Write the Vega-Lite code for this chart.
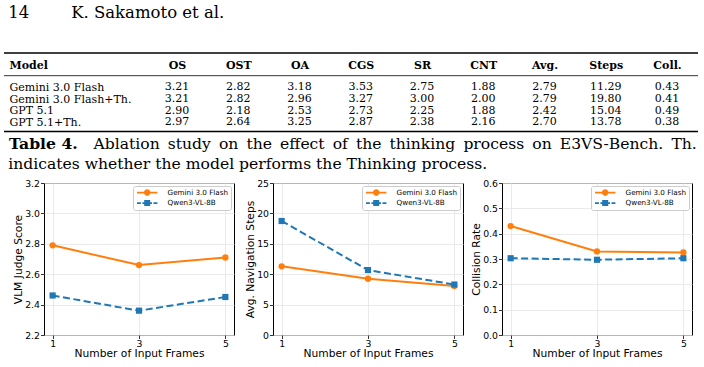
{
  "$schema": "https://vega.github.io/schema/vega-lite/v6.json",
  "background": "white",
  "padding": {"left": 3, "right": 0, "top": 4, "bottom": 0},
  "title": {
    "text": "14\u00a0\u00a0\u00a0\u00a0\u00a0\u00a0\u00a0\u00a0K. Sakamoto et al.",
    "anchor": "start", "font": "DejaVu Serif", "fontSize": 16.5, "fontWeight": "normal",
    "color": "black", "dx": 5, "offset": 31
  },
  "datasets": {
    "table": [
      {"model": "Gemini 3.0 Flash", "metric": "OS", "score": 3.21},
      {"model": "Gemini 3.0 Flash", "metric": "OST", "score": 2.82},
      {"model": "Gemini 3.0 Flash", "metric": "OA", "score": 3.18},
      {"model": "Gemini 3.0 Flash", "metric": "CGS", "score": 3.53},
      {"model": "Gemini 3.0 Flash", "metric": "SR", "score": 2.75},
      {"model": "Gemini 3.0 Flash", "metric": "CNT", "score": 1.88},
      {"model": "Gemini 3.0 Flash", "metric": "Avg.", "score": 2.79},
      {"model": "Gemini 3.0 Flash", "metric": "Steps", "score": 11.29},
      {"model": "Gemini 3.0 Flash", "metric": "Coll.", "score": 0.43},
      {"model": "Gemini 3.0 Flash+Th.", "metric": "OS", "score": 3.21},
      {"model": "Gemini 3.0 Flash+Th.", "metric": "OST", "score": 2.82},
      {"model": "Gemini 3.0 Flash+Th.", "metric": "OA", "score": 2.96},
      {"model": "Gemini 3.0 Flash+Th.", "metric": "CGS", "score": 3.27},
      {"model": "Gemini 3.0 Flash+Th.", "metric": "SR", "score": 3.00},
      {"model": "Gemini 3.0 Flash+Th.", "metric": "CNT", "score": 2.00},
      {"model": "Gemini 3.0 Flash+Th.", "metric": "Avg.", "score": 2.79},
      {"model": "Gemini 3.0 Flash+Th.", "metric": "Steps", "score": 19.80},
      {"model": "Gemini 3.0 Flash+Th.", "metric": "Coll.", "score": 0.41},
      {"model": "GPT 5.1", "metric": "OS", "score": 2.90},
      {"model": "GPT 5.1", "metric": "OST", "score": 2.18},
      {"model": "GPT 5.1", "metric": "OA", "score": 2.53},
      {"model": "GPT 5.1", "metric": "CGS", "score": 2.73},
      {"model": "GPT 5.1", "metric": "SR", "score": 2.25},
      {"model": "GPT 5.1", "metric": "CNT", "score": 1.88},
      {"model": "GPT 5.1", "metric": "Avg.", "score": 2.42},
      {"model": "GPT 5.1", "metric": "Steps", "score": 15.04},
      {"model": "GPT 5.1", "metric": "Coll.", "score": 0.49},
      {"model": "GPT 5.1+Th.", "metric": "OS", "score": 2.97},
      {"model": "GPT 5.1+Th.", "metric": "OST", "score": 2.64},
      {"model": "GPT 5.1+Th.", "metric": "OA", "score": 3.25},
      {"model": "GPT 5.1+Th.", "metric": "CGS", "score": 2.87},
      {"model": "GPT 5.1+Th.", "metric": "SR", "score": 2.38},
      {"model": "GPT 5.1+Th.", "metric": "CNT", "score": 2.16},
      {"model": "GPT 5.1+Th.", "metric": "Avg.", "score": 2.70},
      {"model": "GPT 5.1+Th.", "metric": "Steps", "score": 13.78},
      {"model": "GPT 5.1+Th.", "metric": "Coll.", "score": 0.38}
    ],
    "series": [
      {"metric": "VLM Judge Score", "model": "Gemini 3.0 Flash", "frames": 1, "value": 2.79},
      {"metric": "VLM Judge Score", "model": "Gemini 3.0 Flash", "frames": 3, "value": 2.66},
      {"metric": "VLM Judge Score", "model": "Gemini 3.0 Flash", "frames": 5, "value": 2.71},
      {"metric": "VLM Judge Score", "model": "Qwen3-VL-8B", "frames": 1, "value": 2.46},
      {"metric": "VLM Judge Score", "model": "Qwen3-VL-8B", "frames": 3, "value": 2.36},
      {"metric": "VLM Judge Score", "model": "Qwen3-VL-8B", "frames": 5, "value": 2.45},
      {"metric": "Avg. Navigation Steps", "model": "Gemini 3.0 Flash", "frames": 1, "value": 11.29},
      {"metric": "Avg. Navigation Steps", "model": "Gemini 3.0 Flash", "frames": 3, "value": 9.25},
      {"metric": "Avg. Navigation Steps", "model": "Gemini 3.0 Flash", "frames": 5, "value": 8.05},
      {"metric": "Avg. Navigation Steps", "model": "Qwen3-VL-8B", "frames": 1, "value": 18.75},
      {"metric": "Avg. Navigation Steps", "model": "Qwen3-VL-8B", "frames": 3, "value": 10.68},
      {"metric": "Avg. Navigation Steps", "model": "Qwen3-VL-8B", "frames": 5, "value": 8.3},
      {"metric": "Collision Rate", "model": "Gemini 3.0 Flash", "frames": 1, "value": 0.43},
      {"metric": "Collision Rate", "model": "Gemini 3.0 Flash", "frames": 3, "value": 0.33},
      {"metric": "Collision Rate", "model": "Gemini 3.0 Flash", "frames": 5, "value": 0.326},
      {"metric": "Collision Rate", "model": "Qwen3-VL-8B", "frames": 1, "value": 0.303},
      {"metric": "Collision Rate", "model": "Qwen3-VL-8B", "frames": 3, "value": 0.297},
      {"metric": "Collision Rate", "model": "Qwen3-VL-8B", "frames": 5, "value": 0.303}
    ]
  },
  "spacing": 5,
  "vconcat": [
    {
      "width": 654, "height": 78.5,
      "view": {"stroke": null},
      "title": {
        "text": "indicates whether the model performs the Thinking process.",
        "orient": "bottom", "anchor": "start", "dx": 5, "offset": 4.4,
        "font": "DejaVu Serif", "fontSize": 15.6, "fontWeight": "normal", "color": "black"
      },
      "resolve": {"scale": {"x": "independent", "y": "independent"}},
      "layer": [
        {
          "data": {"name": "table"},
          "mark": {"type": "text", "font": "DejaVu Serif", "fontSize": 11, "color": "black"},
          "encoding": {
            "x": {
              "field": "metric", "type": "nominal", "sort": null,
              "scale": {"type": "point", "domain": ["OS", "OST", "OA", "CGS", "SR", "CNT", "Avg.", "Steps", "Coll."], "range": [133, 623], "padding": 0},
              "axis": {"orient": "top", "offset": -22.7, "ticks": false, "tickSize": 0, "grid": false,
                "domain": false, "labelAngle": 0,
                "labelFont": "DejaVu Serif", "labelFontWeight": "bold", "labelFontSize": 11, "labelColor": "black",
                "labelPadding": 10, "labelBaseline": "middle", "labelOverlap": false, "labelFlush": false,
                "title": "Ablation \u2009study \u2009on \u2009the \u2009effect \u2009of \u2009the \u2009thinking \u2009process \u2009on \u2009E3VS-Bench. \u2009Th.",
                "titleFont": "DejaVu Serif", "titleFontSize": 15.6, "titleFontWeight": "normal", "titleColor": "black",
                "titleAngle": 0, "titleAlign": "left", "titleBaseline": "top", "titleX": 49, "titleY": 61.1}
            },
            "y": {
              "field": "model", "type": "nominal", "sort": null,
              "scale": {"type": "point", "domain": ["Gemini 3.0 Flash", "Gemini 3.0 Flash+Th.", "GPT 5.1", "GPT 5.1+Th."], "range": [34.4, 69.4], "padding": 0},
              "axis": {"orient": "left", "title": "Model", "titleAngle": 0, "titleAlign": "left", "titleBaseline": "middle",
                "titleX": -35, "titleY": 12.7, "titleFont": "DejaVu Serif", "titleFontWeight": "bold", "titleFontSize": 11,
                "titleColor": "black", "labelAlign": "left", "labelPadding": 35, "ticks": false, "tickSize": 0,
                "domain": false, "grid": false, "labelFont": "DejaVu Serif", "labelFontSize": 11, "labelColor": "black",
                "labelOverlap": false, "labelBaseline": "middle", "labelLimit": 300}
            },
            "text": {"field": "score", "type": "quantitative", "format": ".2f"}
          }
        },
        {
          "data": {"values": [{"label": "Table 4."}]},
          "mark": {"type": "text", "font": "DejaVu Serif", "fontSize": 15.6, "fontWeight": "bold", "color": "black", "align": "left", "baseline": "top", "dx": 5},
          "encoding": {
            "x": {"datum": 0, "type": "quantitative", "scale": {"domain": [0, 1], "range": [-40, 654], "nice": false, "zero": false}, "axis": null},
            "y": {"datum": -0.0675, "type": "quantitative", "scale": {"domain": [0, 1], "nice": false, "zero": false}, "axis": null},
            "text": {"field": "label"}
          }
        },
        {
          "data": {"values": [{"edge": "top"}]},
          "mark": {"type": "rule", "strokeWidth": 1.6, "color": "black"},
          "encoding": {
            "x": {"datum": 0, "type": "quantitative", "scale": {"domain": [0, 1], "range": [-40, 654], "nice": false, "zero": false}, "axis": null},
            "x2": {"datum": 1},
            "y": {"datum": 1, "type": "quantitative", "scale": {"domain": [0, 1], "nice": false, "zero": false}, "axis": null}
          }
        },
        {
          "data": {"values": [{"edge": "mid"}]},
          "mark": {"type": "rule", "strokeWidth": 0.8, "color": "black"},
          "encoding": {
            "x": {"datum": 0, "type": "quantitative", "scale": {"domain": [0, 1], "range": [-40, 654], "nice": false, "zero": false}, "axis": null},
            "x2": {"datum": 1},
            "y": {"datum": 0.711, "type": "quantitative", "scale": {"domain": [0, 1], "nice": false, "zero": false}, "axis": null}
          }
        },
        {
          "data": {"values": [{"edge": "bottom"}]},
          "mark": {"type": "rule", "strokeWidth": 1.6, "color": "black"},
          "encoding": {
            "x": {"datum": 0, "type": "quantitative", "scale": {"domain": [0, 1], "range": [-40, 654], "nice": false, "zero": false}, "axis": null},
            "x2": {"datum": 1},
            "y": {"datum": 0, "type": "quantitative", "scale": {"domain": [0, 1], "nice": false, "zero": false}, "axis": null}
          }
        }
      ]
    },
    {
      "hconcat": [
        {
          "width": 190, "height": 152,
          "data": {"name": "series"},
          "transform": [{"filter": "datum.metric === 'VLM Judge Score'"}],
          "encoding": {
            "x": {"field": "frames", "type": "quantitative", "scale": {"domain": [0.8, 5.2], "nice": false, "zero": false},
              "axis": {"values": [1, 3, 5], "format": "d", "title": "Number of Input Frames", "labelFlush": false, "grid": true}},
            "y": {"field": "value", "type": "quantitative", "scale": {"domain": [2.2, 3.2], "nice": false, "zero": false},
              "axis": {"values": [2.2, 2.4, 2.6, 2.8, 3.0, 3.2], "format": ".1f", "title": "VLM Judge Score", "labelFlush": false, "grid": true}}
          },
          "layer": [
            {"transform": [{"filter": "datum.model === 'Gemini 3.0 Flash'"}],
              "mark": {"type": "line", "strokeWidth": 2, "color": "#ff7f0e"}, "encoding": {}},
            {"transform": [{"filter": "datum.model === 'Qwen3-VL-8B'"}],
              "mark": {"type": "line", "strokeWidth": 2, "color": "#1f77b4", "strokeDash": [7, 3.5]}, "encoding": {}},
            {"transform": [{"filter": "datum.model === 'Gemini 3.0 Flash'"}],
              "mark": {"type": "point", "shape": "circle", "filled": true, "size": 40, "color": "#ff7f0e", "opacity": 1}},
            {"transform": [{"filter": "datum.model === 'Qwen3-VL-8B'"}],
              "mark": {"type": "point", "shape": "square", "filled": true, "size": 38, "color": "#1f77b4", "opacity": 1}},
            {"mark": {"type": "point", "filled": true, "strokeWidth": 0, "clip": true},
              "encoding": {
                "y": {"datum": 100, "type": "quantitative"},
                "fill": {"field": "model", "type": "nominal", "title": null, "scale": {"domain": ["Gemini 3.0 Flash", "Qwen3-VL-8B"], "range": ["#ff7f0e", "#1f77b4"]}},
                "shape": {"field": "model", "type": "nominal", "title": null, "scale": {"domain": ["Gemini 3.0 Flash", "Qwen3-VL-8B"], "range": ["M-3.4,-0.28H3.4V0.28H-3.4ZM1.1,0A1.1,1.1,0,1,1,-1.1,0A1.1,1.1,0,1,1,1.1,0Z", "M-3.4,-0.28H-2.1V0.28H-3.4ZM-1.6,-0.28H-1V0.28H-1.6ZM1,-0.28H1.6V0.28H1ZM2.1,-0.28H3.4V0.28H2.1ZM-1,-1H1V1H-1Z"]}}
              }}
          ]
        },
        {
          "width": 190, "height": 152,
          "data": {"name": "series"},
          "transform": [{"filter": "datum.metric === 'Avg. Navigation Steps'"}],
          "encoding": {
            "x": {"field": "frames", "type": "quantitative", "scale": {"domain": [0.8, 5.2], "nice": false, "zero": false},
              "axis": {"values": [1, 3, 5], "format": "d", "title": "Number of Input Frames", "labelFlush": false, "grid": true}},
            "y": {"field": "value", "type": "quantitative", "scale": {"domain": [0, 25], "nice": false, "zero": false},
              "axis": {"values": [0, 5, 10, 15, 20, 25], "format": "d", "title": "Avg. Navigation Steps", "labelFlush": false, "grid": true}}
          },
          "layer": [
            {"transform": [{"filter": "datum.model === 'Gemini 3.0 Flash'"}],
              "mark": {"type": "line", "strokeWidth": 2, "color": "#ff7f0e"}, "encoding": {}},
            {"transform": [{"filter": "datum.model === 'Qwen3-VL-8B'"}],
              "mark": {"type": "line", "strokeWidth": 2, "color": "#1f77b4", "strokeDash": [7, 3.5]}, "encoding": {}},
            {"transform": [{"filter": "datum.model === 'Gemini 3.0 Flash'"}],
              "mark": {"type": "point", "shape": "circle", "filled": true, "size": 40, "color": "#ff7f0e", "opacity": 1}},
            {"transform": [{"filter": "datum.model === 'Qwen3-VL-8B'"}],
              "mark": {"type": "point", "shape": "square", "filled": true, "size": 38, "color": "#1f77b4", "opacity": 1}},
            {"mark": {"type": "point", "filled": true, "strokeWidth": 0, "clip": true},
              "encoding": {
                "y": {"datum": 1000, "type": "quantitative"},
                "fill": {"field": "model", "type": "nominal", "title": null, "scale": {"domain": ["Gemini 3.0 Flash", "Qwen3-VL-8B"], "range": ["#ff7f0e", "#1f77b4"]}},
                "shape": {"field": "model", "type": "nominal", "title": null, "scale": {"domain": ["Gemini 3.0 Flash", "Qwen3-VL-8B"], "range": ["M-3.4,-0.28H3.4V0.28H-3.4ZM1.1,0A1.1,1.1,0,1,1,-1.1,0A1.1,1.1,0,1,1,1.1,0Z", "M-3.4,-0.28H-2.1V0.28H-3.4ZM-1.6,-0.28H-1V0.28H-1.6ZM1,-0.28H1.6V0.28H1ZM2.1,-0.28H3.4V0.28H2.1ZM-1,-1H1V1H-1Z"]}}
              }}
          ]
        },
        {
          "width": 190, "height": 152,
          "data": {"name": "series"},
          "transform": [{"filter": "datum.metric === 'Collision Rate'"}],
          "encoding": {
            "x": {"field": "frames", "type": "quantitative", "scale": {"domain": [0.8, 5.2], "nice": false, "zero": false},
              "axis": {"values": [1, 3, 5], "format": "d", "title": "Number of Input Frames", "labelFlush": false, "grid": true}},
            "y": {"field": "value", "type": "quantitative", "scale": {"domain": [0, 0.6], "nice": false, "zero": false},
              "axis": {"values": [0, 0.1, 0.2, 0.3, 0.4, 0.5, 0.6], "format": ".1f", "title": "Collision Rate", "labelFlush": false, "grid": true}}
          },
          "layer": [
            {"transform": [{"filter": "datum.model === 'Gemini 3.0 Flash'"}],
              "mark": {"type": "line", "strokeWidth": 2, "color": "#ff7f0e"}, "encoding": {}},
            {"transform": [{"filter": "datum.model === 'Qwen3-VL-8B'"}],
              "mark": {"type": "line", "strokeWidth": 2, "color": "#1f77b4", "strokeDash": [7, 3.5]}, "encoding": {}},
            {"transform": [{"filter": "datum.model === 'Gemini 3.0 Flash'"}],
              "mark": {"type": "point", "shape": "circle", "filled": true, "size": 40, "color": "#ff7f0e", "opacity": 1}},
            {"transform": [{"filter": "datum.model === 'Qwen3-VL-8B'"}],
              "mark": {"type": "point", "shape": "square", "filled": true, "size": 38, "color": "#1f77b4", "opacity": 1}},
            {"mark": {"type": "point", "filled": true, "strokeWidth": 0, "clip": true},
              "encoding": {
                "y": {"datum": 100, "type": "quantitative"},
                "fill": {"field": "model", "type": "nominal", "title": null, "scale": {"domain": ["Gemini 3.0 Flash", "Qwen3-VL-8B"], "range": ["#ff7f0e", "#1f77b4"]}},
                "shape": {"field": "model", "type": "nominal", "title": null, "scale": {"domain": ["Gemini 3.0 Flash", "Qwen3-VL-8B"], "range": ["M-3.4,-0.28H3.4V0.28H-3.4ZM1.1,0A1.1,1.1,0,1,1,-1.1,0A1.1,1.1,0,1,1,1.1,0Z", "M-3.4,-0.28H-2.1V0.28H-3.4ZM-1.6,-0.28H-1V0.28H-1.6ZM1,-0.28H1.6V0.28H1ZM2.1,-0.28H3.4V0.28H2.1ZM-1,-1H1V1H-1Z"]}}
              }}
          ]
        }
      ],
      "spacing": 39,
      "bounds": "flush",
      "resolve": {"scale": {"fill": "independent", "shape": "independent"}}
    }
  ],
  "config": {
    "font": "DejaVu Sans",
    "view": {"stroke": "black", "strokeWidth": 1},
    "axis": {
      "labelFont": "DejaVu Sans", "labelFontSize": 9.3, "labelColor": "black",
      "titleFont": "DejaVu Sans", "titleFontSize": 10.7, "titleFontWeight": "normal", "titleColor": "black",
      "tickColor": "black", "tickSize": 3.5, "tickWidth": 0.8, "domain": false,
      "gridColor": "#e4e4e4", "gridWidth": 0.8, "labelPadding": 1, "titlePadding": 1, "labelAngle": 0
    },
    "axisX": {"titlePadding": 0.5, "labelPadding": 0.5},
    "legend": {
      "orient": "top-right", "offset": 3, "padding": 3, "strokeColor": "#cccccc", "fillColor": "white",
      "cornerRadius": 2, "labelFont": "DejaVu Sans", "labelFontSize": 7.2, "labelColor": "black",
      "symbolSize": 36, "symbolStrokeWidth": 0, "symbolOffset": 7.6, "labelOffset": 16.8, "rowPadding": 2.5,
      "symbolOpacity": 1
    }
  }
}
